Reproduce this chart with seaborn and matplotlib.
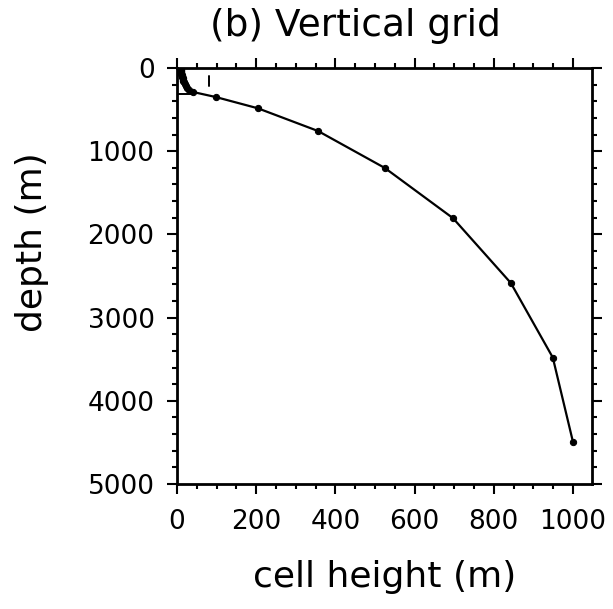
import numpy as np
import pandas as pd
import matplotlib
matplotlib.use("Agg")
import matplotlib.pyplot as plt
import seaborn as sns
from matplotlib.ticker import MultipleLocator

# cell height (m) vs depth (m) of model layers
cell_height = [10, 10, 10, 10, 10, 10, 11, 11, 12, 12, 13, 14, 15, 16, 18, 20, 23, 26, 30,
               40, 98, 204, 356, 525, 697, 843, 949, 1000]
depth = [5, 15, 25, 35, 45, 55, 66, 77, 88, 100, 113, 126, 140, 156, 173, 192, 213, 237, 264,
         288, 349, 484, 757, 1202, 1805, 2584, 3480, 4495]

# stray marks present in the original figure
stray_h_x = [0, 37]
stray_h_y = [309, 309]
stray_v_x = [81, 81]
stray_v_y = [96, 216]

title = "(b) Vertical grid"
xlabel = "cell height (m)"
ylabel = "depth (m)"
xticks = [0, 200, 400, 600, 800, 1000]
yticks = [0, 1000, 2000, 3000, 4000, 5000]

df = pd.DataFrame({"cell_height": cell_height, "depth": depth})

sns.set_theme(style="white")
plt.rcParams["font.family"] = ["DejaVu Sans"]
plt.rcParams["text.color"] = "black"
plt.rcParams["xtick.color"] = "black"
plt.rcParams["ytick.color"] = "black"

fig = plt.figure(figsize=(6.13, 6.09), dpi=100)
ax = fig.add_axes([177/613, 1 - 484/609, (592-177)/613, (484-68)/609])

sns.lineplot(data=df, x="cell_height", y="depth", ax=ax, sort=False, estimator=None,
             color="black", lw=1.6, marker="o", markersize=4.5, markeredgecolor="black")
ax.plot(stray_h_x, stray_h_y, color="black", lw=1.4)
ax.plot(stray_v_x, stray_v_y, color="black", lw=1.4)

ax.set_xlim(0, 1048)
ax.set_ylim(5000, 0)
ax.set_xticks(xticks)
ax.set_yticks(yticks)
ax.xaxis.set_minor_locator(MultipleLocator(50))
ax.yaxis.set_minor_locator(MultipleLocator(200))
ax.tick_params(which="both", direction="out", top=True, right=True, bottom=True, left=True,
               color="black", width=1.5)
ax.tick_params(which="major", length=7.2, labelsize=19)
ax.tick_params(axis="y", which="major", pad=9)
ax.tick_params(axis="x", which="major", pad=11)
ax.tick_params(which="minor", length=3.6)
ax.tick_params(axis="x", which="both", labeltop=False)
ax.tick_params(axis="y", which="both", labelright=False)
for s in ax.spines.values():
    s.set_color("black")
    s.set_linewidth(2)

ax.set_xlabel("")
ax.set_ylabel("")
fig.text(385/613, 1 - 577/609, xlabel, fontsize=26, ha="center", va="center", color="black")
fig.text(32/613, 1 - 242/609, ylabel, fontsize=26, ha="center", va="center", rotation=90,
         color="black")
fig.text(355/613, 1 - 26/609, title, fontsize=27, ha="center", va="center", color="black")

fig.savefig("out.png", dpi=100, facecolor="white")
